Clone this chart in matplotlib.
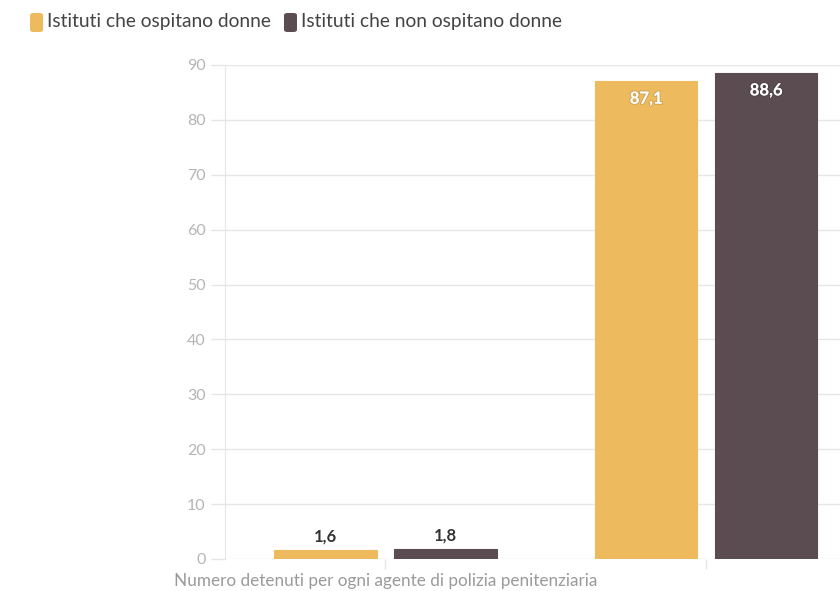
"""Barre raggruppate: detenuti per agente, istituti con e senza sezioni femminili."""
import matplotlib
matplotlib.use('Agg')
import matplotlib.pyplot as plt
import matplotlib.patheffects as pe
from matplotlib.patches import FancyBboxPatch
import numpy as np

plt.rcParams['font.family'] = ['Lato', 'DejaVu Sans']

categorie = ['Numero detenuti per ogni agente di polizia penitenziaria', '']
serie = ['Istituti che ospitano donne', 'Istituti che non ospitano donne']
con_donne = [1.6, 87.1]
senza_donne = [1.8, 88.6]
colori = ['#EDBA5E', '#5A4C50']
y_ticks = [0, 10, 20, 30, 40, 50, 60, 70, 80, 90]

fig = plt.figure(figsize=(8.4, 5.91), dpi=100)
# l'area del grafico esce oltre il bordo destro
ax = fig.add_axes([225 / 840, 1 - 559 / 591, 641.5 / 840, 494 / 591])

x = np.arange(len(categorie))
w = 0.32
off = 0.187
griglia = '#e6e6e6'

for vals, col, dx in [(con_donne, colori[0], -off), (senza_donne, colori[1], off)]:
    bars = ax.bar(x + dx, vals, w, color=col, edgecolor=col, linewidth=0.8, zorder=3)
    for b, v in zip(bars, vals):
        testo = f'{v:.1f}'.replace('.', ',')
        cx = b.get_x() + b.get_width() / 2
        if v > 20:
            t = ax.annotate(testo, (cx, v), xytext=(0, -7), textcoords='offset points',
                            ha='center', va='top', fontsize=12, fontweight='bold',
                            color='white', zorder=4)
            t.set_path_effects([pe.withStroke(linewidth=1.5, foreground=(0, 0, 0, 0.12))])
        else:
            ax.annotate(testo, (cx, v), xytext=(0, 4), textcoords='offset points',
                        ha='center', va='bottom', fontsize=12, fontweight='bold',
                        color='#333333', zorder=4)

ax.set_xlim(-0.5, 1.5)
ax.set_ylim(0, 90)
ax.set_yticks(y_ticks)
ax.set_xticks(x)
ax.set_xticklabels(categorie, fontsize=12.3, color='#9a9a9a')
ax.tick_params(axis='y', length=10, width=1, color=griglia, labelsize=11.5,
               labelcolor='#b5b5b5', pad=4)
ax.tick_params(axis='x', length=7, width=1, color=griglia, pad=3)
ax.yaxis.grid(True, color=griglia, linewidth=1, zorder=0)
for s in ['top', 'right', 'bottom']:
    ax.spines[s].set_visible(False)
ax.spines['left'].set_color(griglia)
ax.spines['left'].set_zorder(1)
ax.set_axisbelow(True)

# legenda in alto a sinistra con quadratini arrotondati
leg_x = [30 / 840, 284 / 840]
for lx, nome, col in zip(leg_x, serie, colori):
    fig.patches.append(FancyBboxPatch((lx, 1 - 32 / 591), 13 / 840, 19 / 591,
                                      boxstyle='round,pad=0,rounding_size=0.004',
                                      transform=fig.transFigure, facecolor=col,
                                      edgecolor='none'))
    fig.text(lx + 17 / 840, 1 - 22 / 591, nome, fontsize=13.8, color='#444444',
             ha='left', va='center')

fig.savefig('out.png', dpi=100)
